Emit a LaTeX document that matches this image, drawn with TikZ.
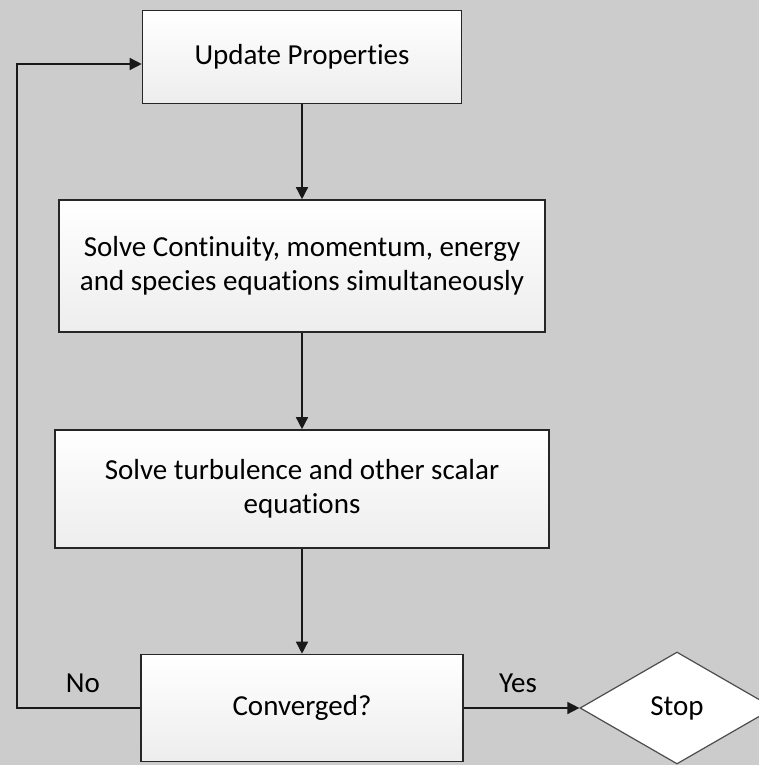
\documentclass[tikz,border=0pt]{standalone}
\usepackage{fontspec}
\setmainfont{Carlito}[Ligatures=NoCommon]
\usetikzlibrary{shapes.geometric,arrows.meta}
\definecolor{bggray}{RGB}{204,204,204}
\begin{document}
\begin{tikzpicture}[x=1pt,y=1pt,
  stepbox/.style={draw=black!85, line width=1.6pt, rectangle, top color=white, bottom color=black!7,
    align=center, inner sep=0pt, font=\fontsize{29}{34}\selectfont},
  stopbox/.style={draw=black!70, line width=1.2pt, diamond, fill=white, aspect=1.73,
    inner sep=0pt, font=\fontsize{29}{34}\selectfont},
  flow/.style={draw=black!90, line width=1.5pt, -{Triangle[length=12pt,width=12pt]}},
  lbl/.style={font=\fontsize{29}{34}\selectfont}]
\fill[bggray] (0,0) rectangle (759,-765);
\useasboundingbox (0,0) rectangle (759,-765);
\node[stepbox, minimum width=319, minimum height=93] (upd) at (302,-57) {Update Properties};
\node[stepbox, minimum width=486, minimum height=132] (solve) at (302,-266) {Solve Continuity, momentum, energy\\and species equations simultaneously};
\node[stepbox, minimum width=494, minimum height=118] (turb) at (302,-489) {Solve turbulence and other scalar\\equations};
\node[stepbox, minimum width=322, minimum height=107] (conv) at (302,-708) {Converged?};
\node[stopbox, minimum width=194, minimum height=112] (stop) at (677,-708) {Stop};
\draw[flow] (upd) -- (solve);
\draw[flow] (solve) -- (turb);
\draw[flow] (turb) -- (conv);
\draw[flow] (conv) -- (stop);
% loop back when not converged
\coordinate (lb) at (17,-708);
\coordinate (lt) at (17,-64);
\draw[flow] (conv.west) -- (lb) -- (lt) -- (lt -| upd.west);
\node[lbl] (no) at (83,-683) {No};
\node[lbl] (yes) at (518,-683) {Yes};
\end{tikzpicture}
\end{document}
